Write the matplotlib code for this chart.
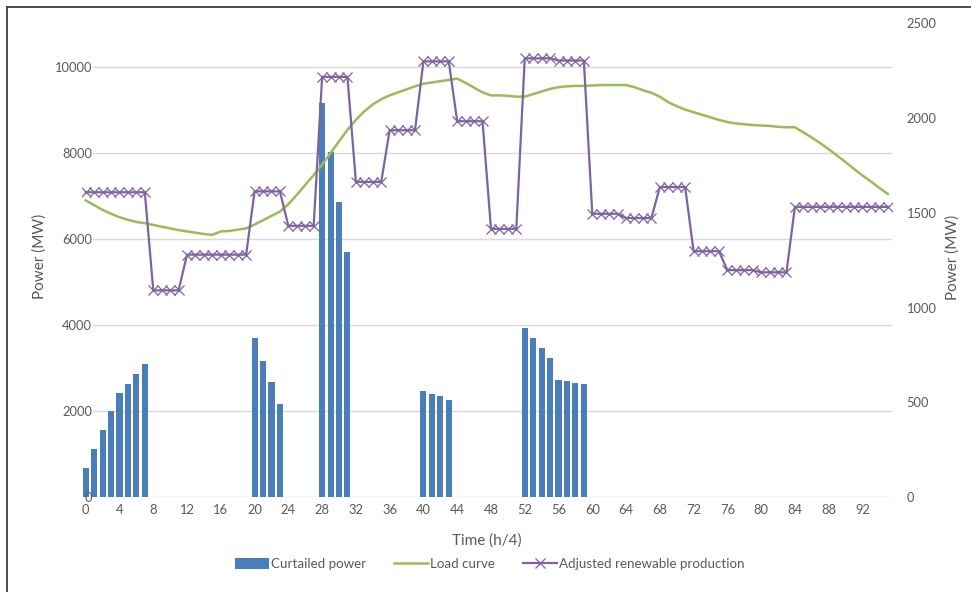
import matplotlib
matplotlib.use("Agg")
import matplotlib.pyplot as plt
from matplotlib.lines import Line2D
from matplotlib.patches import Patch
from matplotlib.transforms import blended_transform_factory

# ---- data -------------------------------------------------------------
time_steps = list(range(96))

load_curve = [
    6890, 6780, 6670, 6580, 6500, 6440, 6390, 6360, 6320, 6280,
    6240, 6200, 6170, 6140, 6110, 6090, 6170, 6180, 6210, 6240,
    6330, 6430, 6530, 6630, 6800, 7020, 7250, 7480, 7720, 7990,
    8260, 8530, 8760, 8960, 9120, 9240, 9330, 9400, 9470, 9540,
    9600, 9630, 9660, 9690, 9720, 9620, 9510, 9400, 9330, 9330,
    9320, 9300, 9300, 9360, 9420, 9480, 9520, 9540, 9550, 9550,
    9560, 9570, 9570, 9570, 9570, 9520, 9450, 9390, 9300, 9170,
    9080, 9000, 8940, 8880, 8820, 8760, 8710, 8680, 8660, 8640,
    8630, 8620, 8600, 8590, 8590, 8470, 8350, 8220, 8080, 7930,
    7780, 7620, 7470, 7330, 7180, 7040,
]

renewable = [
    7080, 7080, 7080, 7080, 7080, 7080, 7080, 7080,
    4800, 4800, 4800, 4800,
    5630, 5630, 5630, 5630, 5630, 5630, 5630, 5630,
    7100, 7100, 7100, 7100,
    6300, 6300, 6300, 6300,
    9760, 9760, 9760, 9760,
    7320, 7320, 7320, 7320,
    8520, 8520, 8520, 8520,
    10120, 10120, 10120, 10120,
    8730, 8730, 8730, 8730,
    6230, 6230, 6230, 6230,
    10190, 10190, 10190, 10190,
    10140, 10140, 10140, 10140,
    6580, 6580, 6580, 6580,
    6480, 6480, 6480, 6480,
    7200, 7200, 7200, 7200,
    5710, 5710, 5710, 5710,
    5270, 5270, 5270, 5270,
    5220, 5220, 5220, 5220,
    6740, 6740, 6740, 6740, 6740, 6740, 6740, 6740, 6740, 6740, 6740, 6740,
]

curtailed_t = [0, 1, 2, 3, 4, 5, 6, 7,
               20, 21, 22, 23,
               28, 29, 30, 31,
               40, 41, 42, 43,
               52, 53, 54, 55, 56, 57, 58, 59]
curtailed = [155, 253, 354, 452, 549, 595, 649, 700,
             838, 720, 609, 491,
             2082, 1822, 1559, 1295,
             558, 544, 532, 512,
             892, 841, 788, 735, 618, 612, 603, 597]

x_ticks = list(range(0, 96, 4))
left_ticks = [0, 2000, 4000, 6000, 8000, 10000]
right_ticks = [0, 500, 1000, 1500, 2000, 2500]

# ---- style ------------------------------------------------------------
TEXT = "#595959"
GRID = "#D9D9D9"
BLUE = "#4A7EBB"
GREEN = "#9BBB59"
PURPLE = "#7F63A1"
FS = 9.3        # tick labels
FS_TITLE = 11   # axis titles
FS_LEG = 9.6    # legend
plt.rcParams["font.family"] = ["Lato", "DejaVu Sans"]

W, H = 971, 592
fig = plt.figure(figsize=(W / 100, H / 100), dpi=100)

x0, x1, y_top, y_bot = 81.5, 892.0, 23.5, 497.0
rect = [x0 / W, 1 - y_bot / H, (x1 - x0) / W, (y_bot - y_top) / H]

ax_bar = fig.add_axes(rect)             # curtailed power, right scale
ax = fig.add_axes(rect, sharex=ax_bar)  # power curves, left scale
ax.set_zorder(ax_bar.get_zorder() + 1)
ax.patch.set_visible(False)

# bars
ax_bar.bar(curtailed_t, curtailed, width=0.72, color=BLUE, zorder=2)
ax_bar.set_ylim(0, 2500)
ax_bar.set_yticks(right_ticks)
ax_bar.yaxis.tick_right()

# lines
ax.plot(time_steps, load_curve, color=GREEN, lw=1.8, zorder=3)
ax.plot(time_steps, renewable, color=PURPLE, lw=1.6, marker="x",
        markersize=7, markeredgewidth=0.9, zorder=4)
ax.set_ylim(0, 11000)
ax.set_yticks(left_ticks)
ax.set_xlim(-0.5, 95.5)
ax.set_xticks(x_ticks)

# horizontal gridlines following the left scale, behind the bars
gtrans = blended_transform_factory(ax_bar.transAxes, ax.transData)
for v in left_ticks:
    ax_bar.add_line(Line2D([0.014, 1.0], [v, v], transform=gtrans,
                           color=GRID, lw=1.0, zorder=0))

for a in (ax, ax_bar):
    for s in a.spines.values():
        s.set_visible(False)

ax.tick_params(axis="y", length=0, pad=-7.6, labelsize=FS, labelcolor=TEXT)
ax.tick_params(axis="x", length=0, pad=5, labelsize=FS, labelcolor=TEXT)
ax_bar.tick_params(axis="y", length=0, pad=10.5, labelsize=FS, labelcolor=TEXT)
ax_bar.tick_params(axis="x", length=0, labelbottom=False)

# axis titles
fig.text(40 / W, 1 - 256 / H, "Power (MW)", rotation=90, ha="center",
         va="center", fontsize=FS_TITLE, color=TEXT)
fig.text(953 / W, 1 - 257 / H, "Power (MW)", rotation=90, ha="center",
         va="center", fontsize=FS_TITLE, color=TEXT)
fig.text(487 / W, 1 - 541 / H, "Time (h/4)", ha="center", va="center",
         fontsize=FS_TITLE, color=TEXT)

# legend
handles = [
    Patch(facecolor=BLUE, edgecolor="none"),
    Line2D([], [], color=GREEN, lw=1.8),
    Line2D([], [], color=PURPLE, lw=1.6, marker="x", markersize=7,
           markeredgewidth=0.9),
]
labels = ["Curtailed power", "Load curve", "Adjusted renewable production"]
leg = fig.legend(handles, labels, loc="center", ncol=3,
                 bbox_to_anchor=(490 / W, 1 - 564 / H), frameon=False,
                 fontsize=FS_LEG, handlelength=2.55, handletextpad=0.15,
                 columnspacing=2.1, handleheight=0.9)
for t in leg.get_texts():
    t.set_color(TEXT)

# outer frame (left and top edges)
fig.add_artist(Line2D([7 / W, 7 / W], [0, 1 - 6.5 / H], color="#404040",
                      lw=1.3, transform=fig.transFigure))
fig.add_artist(Line2D([7 / W, 1], [1 - 6.5 / H, 1 - 6.5 / H], color="#404040",
                      lw=1.3, transform=fig.transFigure))

fig.savefig("out.png", dpi=100)
